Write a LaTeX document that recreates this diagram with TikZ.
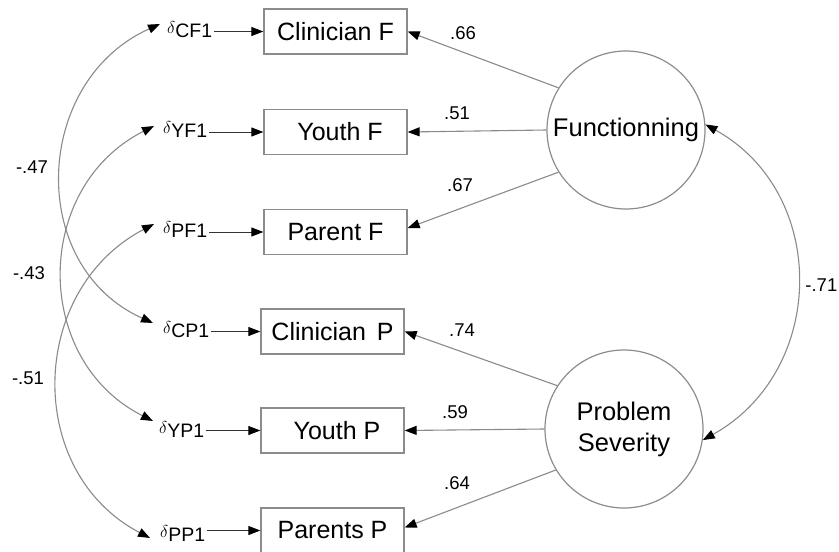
\documentclass[tikz,border=0pt]{standalone}
\usepackage{fontspec}
\setmainfont{Liberation Sans}
\usetikzlibrary{arrows.meta}
\definecolor{linegray}{HTML}{8A8A8A}
\definecolor{boxgray}{HTML}{8C8C8C}
\newcommand{\dsym}{{\fontsize{19}{19}\selectfont$\delta$}}
\newcommand{\dsub}[1]{\raisebox{-4pt}{#1}}
\tikzset{
  myarr/.tip={Triangle[length=12pt,width=9pt,color=black]},
  box/.style={draw=boxgray, line width=1.3pt, minimum width=143pt, minimum height=45pt,
    inner sep=0pt, font=\fontsize{25}{28}\selectfont},
  lat/.style={draw=boxgray, line width=1.2pt, circle, minimum size=158pt, inner sep=0pt,
    align=center, font=\fontsize{25.5}{31}\selectfont},
  dl/.style={inner sep=0pt, anchor=base west, font=\fontsize{19.5}{19.5}\selectfont},
  coef/.style={inner sep=0pt, font=\fontsize{18.5}{18.5}\selectfont},
  load/.style={draw=linegray, line width=1.1pt, -myarr},
  errarr/.style={draw=black!80, line width=1pt, -myarr, shorten <=1.5pt},
  cov/.style={draw=linegray, line width=1.1pt, myarr-myarr},
}
\begin{document}
\begin{tikzpicture}[x=1pt, y=-1pt]
\useasboundingbox (0,0) rectangle (839,552);

% observed indicators
\node[box] (CF) at (335.5,31.5) {Clinician F};
\node[box] (YF) at (335.5,132) {\hspace*{9pt}Youth F};
\node[box] (PF) at (335.5,232) {Parent F};
\node[box] (CP) at (332.5,331.5) {Clinician\hspace{4pt} P};
\node[box] (YP) at (332.5,430.5) {\hspace*{9pt}Youth P};
\node[box] (PP) at (332.5,530.5) {Parents P};

% latent factors
\node[lat] (F) at (626,130) {Functionning};
\node[lat] (P) at (624,429) {Problem\\Severity};

% error terms
\node[dl] (dCF) at (167,33) {\dsym\dsub{CF1}};
\node[dl] (dYF) at (163,133) {\dsym\dsub{YF1}};
\node[dl] (dPF) at (163,233) {\dsym\dsub{PF1}};
\node[dl] (dCP) at (163,333) {\dsym\dsub{CP1}};
\node[dl] (dYP) at (159,433) {\dsym\dsub{YP1}};
\node[dl] (dPP) at (160,537) {\dsym\dsub{PP1}};

\coordinate (tCF) at ([shift={(-7,-9)}]dCF.base west);
\coordinate (tYF) at ([shift={(-9,-7)}]dYF.base west);
\coordinate (tPF) at ([shift={(-9,-9)}]dPF.base west);
\coordinate (tCP) at ([shift={(-10,-10)}]dCP.base west);
\coordinate (tYP) at ([shift={(-6,-12)}]dYP.base west);
\coordinate (tPP) at ([shift={(-10,1)}]dPP.base west);

% error arrows
\draw[errarr] (dCF.east |- CF.west) -- (CF.west);
\draw[errarr] (dYF.east |- YF.west) -- (YF.west);
\draw[errarr] (dPF.east |- PF.west) -- (PF.west);
\draw[errarr] (dCP.east |- CP.west) -- (CP.west);
\draw[errarr] (dYP.east |- YP.west) -- (YP.west);
\draw[errarr] (dPP.east |- PP.west) -- (PP.west);

% loadings
\draw[load] (F.148) -- (CF.east);
\draw[load] (F.180) -- (YF.east);
\draw[load] (F.212) -- ([shift={(0,-4)}]PF.east);
\draw[load] (P.147) -- (CP.east);
\draw[load] (P.180) -- (YP.east);
\draw[load] (P.211) -- ([shift={(0,-3)}]PP.east);

\node[coef] (l1) at (463,33) {.66};
\node[coef] (l2) at (457,113) {.51};
\node[coef] (l3) at (460,185) {.67};
\node[coef] (l4) at (462,330) {.74};
\node[coef] (l5) at (455,412) {.59};
\node[coef] (l6) at (457,483) {.64};

% covariances
\draw[cov] (tCF) .. controls +(-127,57) and +(-127,-57) .. (tCP);
\draw[cov] (tYF) .. controls +(-121,61) and +(-121,-61) .. (tYP);
\draw[cov] (tPF) .. controls +(-126,66) and +(-126,-66) .. (tPP);
\draw[cov] (F.4) .. controls +(124,69) and +(124,-69) .. (P.-8);

\node[coef] (c1) at (32,167) {-.47};
\node[coef] (c2) at (29,273) {-.43};
\node[coef] (c3) at (28,378) {-.51};
\node[coef, anchor=east] (c4) at (837.5,285) {-.71};
\end{tikzpicture}
\end{document}
